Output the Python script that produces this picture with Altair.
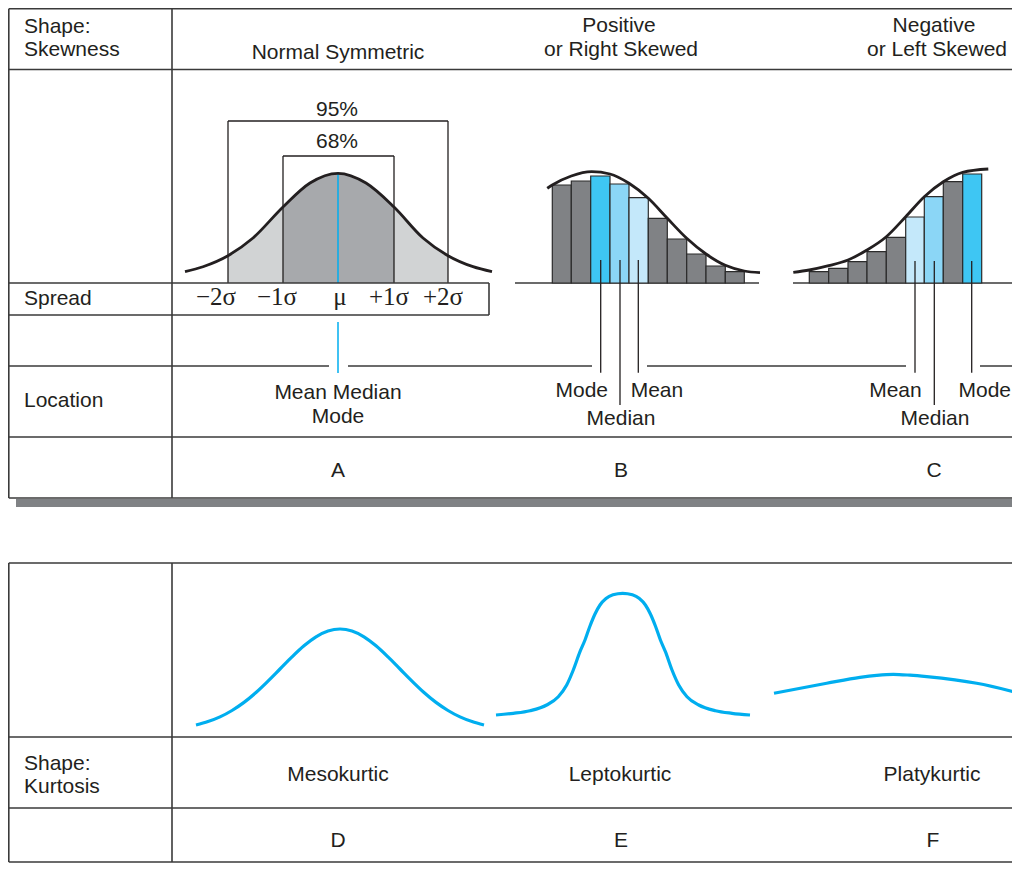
import altair as alt
import pandas as pd

# ---------------- coordinate frame (diagram units = reference pixels) ----------------
X_DOMAIN = [8, 1012]
Y_DOMAIN = [8, 863]

# ---------------- table rules: (x1, y1, x2, y2) ----------------
table_top = [
    (8.8, 8.8, 1020, 8.8), (8.8, 69.5, 1020, 69.5), (8.8, 437, 1020, 437), (8.8, 498, 1020, 498),
    (8.8, 8.8, 8.8, 498), (172, 8.8, 172, 498),
    (8.8, 283, 489, 283), (8.8, 315, 489, 315), (489, 283, 489, 315),
    (8.8, 366, 329, 366), (348, 366, 592, 366), (647, 366, 906, 366), (980, 366, 1020, 366),
]
table_bottom = [
    (8.8, 563, 1020, 563), (8.8, 737, 1020, 737), (8.8, 808, 1020, 808), (8.8, 862, 1020, 862),
    (8.8, 563, 8.8, 862), (172, 563, 172, 862),
]
shadow = [(16, 499, 1020, 507)]

# 95% and 68% brackets
brackets = [
    (228, 121, 448, 121), (228, 121, 228, 283), (448, 121, 448, 283),
    (283, 156, 394, 156), (283, 156, 283, 283), (394, 156, 394, 283),
]
# histogram baselines
hist_baselines = [(515, 283, 759, 283), (793, 283, 1020, 283)]
# location pointer lines (x, y_top, y_bottom)
loc_lines = [
    (600.7, 260, 372.7), (620, 260, 405), (638.3, 260, 372.7),
    (915, 261, 372.7), (934.3, 261, 405), (971.7, 261, 372.7),
]
# blue mean line of the symmetric curve
blue_lines = [(338, 173.3, 338, 283), (338, 322, 338, 373)]

# ---------------- normal (symmetric) curve ----------------
normal_x = [185, 203, 228, 253, 283, 310, 338, 366, 394, 423, 448, 473, 492]
normal_y = [271.7, 266.7, 255.7, 238, 207, 183, 173.3, 183, 207, 238, 255.7, 266.7, 271.7]
area_base = 283

# ---------------- right-skewed histogram (B) ----------------
hist_b_edges = [552.3, 571.3, 590.7, 610, 629, 648.3, 667.3, 686.7, 706, 725.3, 744.3]
hist_b_tops = [185, 181, 176, 184, 197.7, 218.3, 239, 254, 266, 271.7]
hist_b_kind = ["g", "g", "b1", "b2", "b3", "g", "g", "g", "g", "g"]
curve_b_x = [547.3, 552.3, 571.3, 591.7, 610, 629, 648.3, 667.3, 686.7, 706, 725.3, 744.3, 760]
curve_b_y = [188.3, 185, 176, 171.7, 174, 183.3, 198.3, 218.3, 238.3, 254, 265.3, 271, 272.7]

# ---------------- left-skewed histogram (C) ----------------
hist_c_edges = [809.3, 828.7, 848, 867, 886.3, 905.7, 924.3, 943.3, 962.7, 981.7]
hist_c_tops = [271.7, 268.3, 261.7, 251.7, 237.3, 217, 196.7, 181.7, 174]
hist_c_kind = ["g", "g", "g", "g", "g", "b3", "b2", "g", "b1"]
curve_c_x = [793.3, 809.3, 828.7, 848, 867, 886.3, 905.7, 924.3, 943.3, 962.7, 988.3]
curve_c_y = [272.3, 270, 265.7, 260, 250, 236.7, 216.7, 196.7, 181.7, 172.3, 169]

# ---------------- kurtosis curves ----------------
meso_x = [196, 208, 220, 232, 244, 256, 268, 280, 292, 304, 316, 328, 340,
          352, 364, 376, 388, 400, 412, 424, 436, 448, 460, 472, 484]
meso_y = [725, 721.6, 716.9, 710.5, 702.4, 692.5, 681.1, 669, 656.9, 645.8, 636.8, 631, 629,
          631, 636.8, 645.8, 656.9, 669, 681.1, 692.5, 702.4, 710.5, 716.9, 721.6, 725]
lepto_x = [496, 513.3, 530, 546.7, 558.3, 566.7, 573.3, 580, 585, 590, 595, 600, 606, 613, 622.7,
           632.4, 639.4, 645.4, 650.4, 655.4, 660.4, 665.4, 672, 678.7, 687, 698.7, 715.4, 732, 750]
lepto_y = [715, 713.3, 710.7, 705, 696.7, 685, 670, 651.7, 640, 626, 614, 605, 598.5, 594.8, 593.3,
           594.8, 598.5, 605, 614, 626, 640, 651.7, 670, 685, 696.7, 705, 710.7, 713.3, 715]
platy_x = [774, 826.7, 860, 876.7, 893.3, 910, 926.7, 976.7, 1020]
platy_y = [693.3, 683.3, 677.3, 675.3, 674.3, 675.2, 676.7, 683.3, 693.3]

# ---------------- text ----------------
labels_left = [
    ("Shape:", 24, 33), ("Skewness", 24, 56), ("Spread", 24, 305), ("Location", 24, 407),
    ("Shape:", 24, 770), ("Kurtosis", 24, 793), ("Mean", 630.7, 397),
]
labels_center = [
    ("Normal Symmetric", 338, 59), ("Positive", 619, 32), ("or Right Skewed", 621, 56),
    ("Negative", 934, 32), ("or Left Skewed", 937, 56), ("95%", 337, 116), ("68%", 337, 148),
    ("Mean Median", 338, 399), ("Mode", 338, 423), ("Median", 621, 425), ("Median", 935, 425),
    ("A", 338, 477), ("B", 621, 477), ("C", 934, 477),
    ("Mesokurtic", 338, 781), ("Leptokurtic", 620, 781), ("Platykurtic", 932, 781),
    ("D", 338, 847), ("E", 621, 847), ("F", 933, 847),
]
labels_right = [("Mode", 608, 397), ("Mean", 921.7, 397), ("Mode", 1011, 397)]
spread_labels = [("\u22122\u03c3", 216, 305), ("\u22121\u03c3", 277, 305), ("\u03bc", 340, 305),
                 ("+1\u03c3", 389, 305), ("+2\u03c3", 443, 305)]

# ---------------- styles ----------------
INK = "#231f20"
LINE = "#3a3a3a"
BLUE = "#00aeef"
FILLS = {"g": "#808285", "b1": "#3ec6f3", "b2": "#8bd6f6", "b3": "#c4e8fa"}
FONT = "Liberation Sans"

xs = alt.Scale(domain=X_DOMAIN, nice=False, zero=False)
ys = alt.Scale(domain=Y_DOMAIN, nice=False, zero=False, reverse=True)


def segs(rows):
    return pd.DataFrame(rows, columns=["x1", "y1", "x2", "y2"])


def rule_layer(rows, color, width):
    return alt.Chart(segs(rows)).mark_rule(color=color, strokeWidth=width).encode(
        x=alt.X("x1:Q", scale=xs, axis=None), y=alt.Y("y1:Q", scale=ys, axis=None),
        x2="x2:Q", y2="y2:Q")


def curve_df(xv, yv, name):
    return pd.DataFrame({"x": xv, "y": yv, "g": name})


def line_layer(df, color, width):
    return alt.Chart(df).mark_line(color=color, strokeWidth=width, interpolate="monotone",
                                   strokeCap="butt").encode(
        x=alt.X("x:Q", scale=xs, axis=None), y=alt.Y("y:Q", scale=ys, axis=None),
        detail="g:N", order="x:Q")


def bars_df(edges, tops, kinds):
    return pd.DataFrame({"x1": edges[:-1], "x2": edges[1:], "top": tops,
                         "base": [area_base] * len(tops),
                         "fill": [FILLS[k] for k in kinds]})


def bar_layer(df):
    return alt.Chart(df).mark_rect(stroke="#2b2b2b", strokeWidth=1.2).encode(
        x=alt.X("x1:Q", scale=xs, axis=None), x2="x2:Q",
        y=alt.Y("top:Q", scale=ys, axis=None), y2="base:Q",
        fill=alt.Fill("fill:N", scale=None))


def text_layer(rows, align, font=FONT, size=21):
    df = pd.DataFrame(rows, columns=["t", "x", "y"])
    return alt.Chart(df).mark_text(align=align, baseline="alphabetic", font=font,
                                   fontSize=size, color=INK).encode(
        x=alt.X("x:Q", scale=xs, axis=None), y=alt.Y("y:Q", scale=ys, axis=None), text="t:N")


normal_df = pd.DataFrame({"x": normal_x, "y": normal_y, "base": area_base})


def area_layer(lo, hi, color):
    return alt.Chart(normal_df).transform_filter(
        (alt.datum.x >= lo) & (alt.datum.x <= hi)).mark_area(
        color=color, interpolate="monotone").encode(
        x=alt.X("x:Q", scale=xs, axis=None), y=alt.Y("y:Q", scale=ys, axis=None), y2="base:Q")


shadow_layer = alt.Chart(segs(shadow)).mark_rect(color="#808285").encode(
    x=alt.X("x1:Q", scale=xs, axis=None), x2="x2:Q",
    y=alt.Y("y1:Q", scale=ys, axis=None), y2="y2:Q")

layers = [
    shadow_layer,
    area_layer(228, 448, "#d1d3d4"),
    area_layer(283, 394, "#a7a9ac"),
    rule_layer(brackets, INK, 1.3),
    rule_layer(blue_lines, BLUE, 1.5),
    line_layer(curve_df(normal_x, normal_y, "n"), INK, 2.8),
    rule_layer(hist_baselines, LINE, 1.3),
    bar_layer(bars_df(hist_b_edges, hist_b_tops, hist_b_kind)),
    bar_layer(bars_df(hist_c_edges, hist_c_tops, hist_c_kind)),
    rule_layer([(x, a, x, b) for x, a, b in loc_lines], INK, 1.3),
    line_layer(pd.concat([curve_df(curve_b_x, curve_b_y, "b"),
                          curve_df(curve_c_x, curve_c_y, "c")]), INK, 2.8),
    line_layer(pd.concat([curve_df(meso_x, meso_y, "m"), curve_df(lepto_x, lepto_y, "l"),
                          curve_df(platy_x, platy_y, "p")]), BLUE, 3.2),
    rule_layer(table_top + table_bottom, LINE, 1.6),
    text_layer(labels_left, "left"),
    text_layer(labels_center, "center"),
    text_layer(labels_right, "right"),
    text_layer(spread_labels, "center", font="Liberation Serif", size=25),
]

chart = alt.layer(*layers).properties(
    width=X_DOMAIN[1] - X_DOMAIN[0], height=Y_DOMAIN[1] - Y_DOMAIN[0],
    padding=0, autosize=alt.AutoSizeParams(type="none"), background="white",
).configure_view(stroke=None)

chart.save("out.html", embed_options={"renderer": "svg", "actions": False})
